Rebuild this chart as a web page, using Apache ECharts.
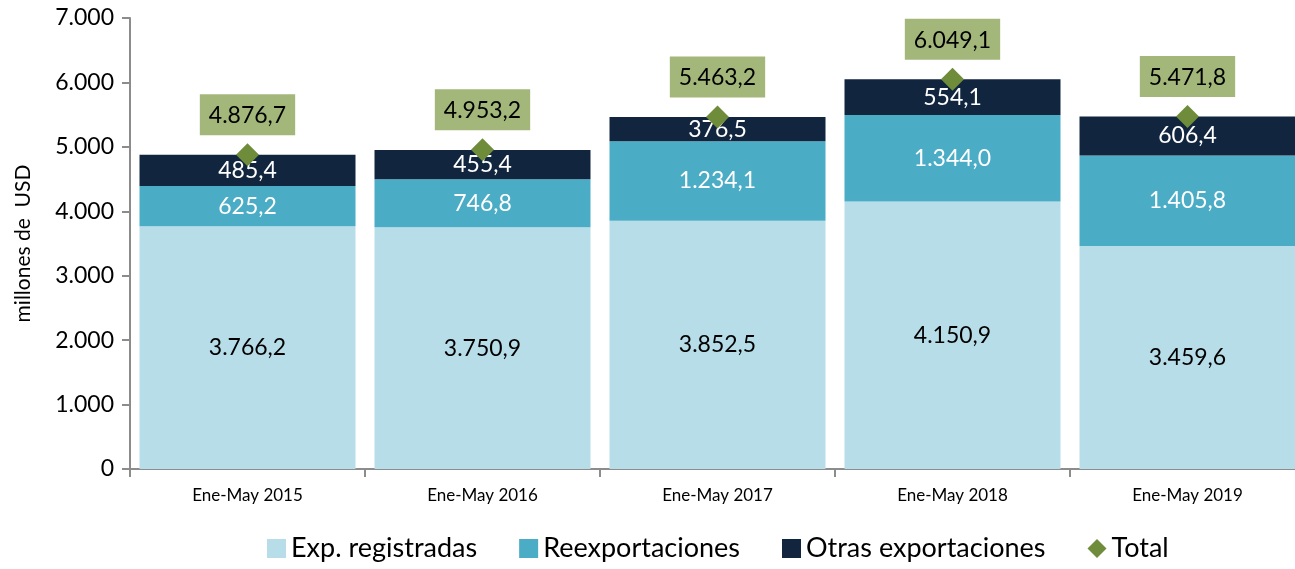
<!DOCTYPE html>
<html>
<head>
<meta charset="utf-8">
<script src="https://cdn.jsdelivr.net/npm/echarts@6/dist/echarts.min.js"></script>
<style>
html, body { margin: 0; padding: 0; background: #fff; }
#chart { width: 1295px; height: 569px; }
</style>
</head>
<body>
<div id="chart"></div>
<script>
var categories = ['Ene-May 2015', 'Ene-May 2016', 'Ene-May 2017', 'Ene-May 2018', 'Ene-May 2019'];
var registradas = [3766.2, 3750.9, 3852.5, 4150.9, 3459.6];
var reexport = [625.2, 746.8, 1234.1, 1344.0, 1405.8];
var otras = [485.4, 455.4, 376.5, 554.1, 606.4];
var total = [4876.7, 4953.2, 5463.2, 6049.1, 5471.8];

var FONT = 'Lato, "Open Sans", sans-serif';

// número con punto de miles y coma decimal
function fmt(v, dec) {
    var s = v.toFixed(dec);
    var parts = s.split('.');
    var ent = parts[0].replace(/\B(?=(\d{3})+(?!\d))/g, '.');
    return parts.length > 1 ? ent + ',' + parts[1] : ent;
}

function barSeries(name, data, color, textColor) {
    return {
        name: name,
        type: 'bar',
        stack: 'exp',
        data: data,
        barWidth: 216,
        itemStyle: { color: color },
        label: {
            show: true,
            position: 'inside',
            color: textColor,
            fontSize: 23,
            fontFamily: FONT,
            formatter: function (p) { return fmt(p.value, 1); }
        }
    };
}

var option = {
    animation: false,
    grid: { left: 130, width: 1175, top: 18, height: 451, outerBoundsMode: 'none', containLabel: false },
    legend: {
        bottom: 2,
        left: 262,
        itemWidth: 19,
        itemHeight: 19,
        itemGap: 42,
        textStyle: { fontSize: 27, fontFamily: FONT, color: '#000' },
        data: [
            { name: 'Exp. registradas', icon: 'rect' },
            { name: 'Reexportaciones', icon: 'rect' },
            { name: 'Otras exportaciones', icon: 'rect' },
            { name: 'Total', icon: 'diamond', itemStyle: { opacity: 1 } }
        ]
    },
    xAxis: {
        type: 'category',
        data: categories,
        axisLine: { lineStyle: { color: '#8c8c8c', width: 2 } },
        axisTick: { show: true, length: 8, lineStyle: { color: '#8c8c8c', width: 2 } },
        axisLabel: { fontSize: 17, fontFamily: FONT, color: '#000', margin: 18 }
    },
    yAxis: {
        type: 'value',
        min: 0,
        max: 7000,
        interval: 1000,
        name: 'millones de  USD',
        nameLocation: 'middle',
        nameGap: 96,
        nameTextStyle: { fontSize: 21, fontFamily: FONT, color: '#000' },
        splitLine: { show: false },
        axisLine: { show: true, lineStyle: { color: '#8c8c8c', width: 2 } },
        axisTick: { show: true, length: 8, lineStyle: { color: '#8c8c8c', width: 2 } },
        axisLabel: {
            fontSize: 23, fontFamily: FONT, color: '#000', margin: 16,
            formatter: function (v) { return fmt(v, 0); }
        }
    },
    series: [
        barSeries('Exp. registradas', registradas, '#b7dde8', '#000'),
        barSeries('Reexportaciones', reexport, '#4bacc6', '#fff'),
        barSeries('Otras exportaciones', otras, '#12253f', '#fff'),
        {
            name: 'Total',
            type: 'scatter',
            data: total,
            symbol: 'diamond',
            symbolSize: [23, 23],
            itemStyle: { color: '#6f8c3a', opacity: 1 },
            z: 5,
            label: {
                show: true,
                position: 'top',
                distance: 8,
                color: '#000',
                fontSize: 23,
                fontFamily: FONT,
                backgroundColor: '#a3b77a',
                padding: [10, 9, 8, 9],
                formatter: function (p) { return fmt(p.value, 1); }
            }
        }
    ]
};

var chart = echarts.init(document.getElementById('chart'));
chart.setOption(option);
</script>
</body>
</html>
